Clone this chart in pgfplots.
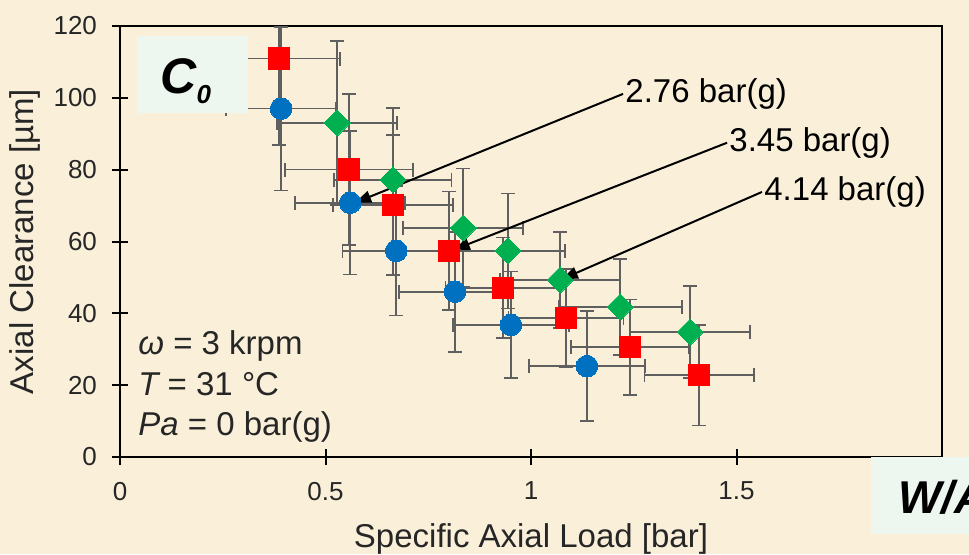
\documentclass[border=0pt]{standalone}
\usepackage{fontspec}
\setmainfont{Liberation Sans}
\usepackage{pgfplots}
\pgfplotsset{compat=1.18}
\usepackage{pgfplotstable}
\usetikzlibrary{arrows.meta}
\definecolor{bg}{RGB}{250,240,218}
\definecolor{mint}{RGB}{237,247,240}
\definecolor{cblue}{RGB}{0,112,192}
\definecolor{cred}{RGB}{255,0,0}
\definecolor{cgreen}{RGB}{0,176,80}
\definecolor{errgray}{RGB}{95,95,95}
\definecolor{txt}{RGB}{38,38,38}

% 2.76 bar(g)
\pgfplotstableread{
x y ex ey
0.392 97.0 0.134 22.8
0.560 70.8 0.134 20.0
0.672 57.4 0.131 18.0
0.815 46.0 0.136 16.7
0.951 36.8 0.141 14.8
1.136 25.3 0.141 15.3
}\blueD
% 3.45 bar(g)
\pgfplotstableread{
x y ex ey
0.387 110.9 0.148 24.0
0.557 80.0 0.156 21.0
0.664 70.2 0.146 19.5
0.800 57.4 0.140 16.5
0.932 47.1 0.140 14.0
1.085 38.7 0.140 13.7
1.241 30.6 0.144 13.3
1.409 22.8 0.133 14.0
}\redD
% 4.14 bar(g)
\pgfplotstableread{
x y ex ey
0.528 93.0 0.146 22.8
0.664 77.2 0.143 20.0
0.835 63.8 0.146 16.5
0.944 57.4 0.139 16.0
1.071 49.3 0.146 13.4
1.217 41.8 0.150 13.4
1.387 34.8 0.146 12.8
}\greenD

\begin{document}
\begin{tikzpicture}[x=1pt,y=1pt]
\path[use as bounding box, fill=bg] (0,0) rectangle (484.5,277);
\begin{axis}[
  at={(60pt,48.5pt)}, anchor=south west,
  scale only axis, width=411pt, height=215.5pt,
  xmin=0, xmax=2, ymin=0, ymax=120,
  xtick={0,0.5,1,1.5}, ytick={0,20,...,120},
  xtick pos=bottom, ytick pos=left,
  tick align=center, major tick length=8pt,
  tick style={line width=1pt, black},
  axis line style={line width=1pt, black},
  every tick label/.append style={font=\fontsize{13}{15}\selectfont, text=txt},
  xticklabel style={yshift=-5pt},
  yticklabel style={xshift=-4pt},
  /pgf/number format/assume math mode=true,
  xlabel={Specific Axial Load [bar]},
  ylabel={Axial Clearance [µm]},
  label style={font=\fontsize{16.5}{19}\selectfont, text=txt},
  xlabel style={at={(axis description cs:0.5,-0.19)}, anchor=center},
  ylabel style={at={(axis description cs:-0.1156,0.5)}, anchor=center},
  error bars/error bar style={line width=0.8pt, errgray},
  error bars/error mark options={rotate=90, mark size=3.5pt, line width=0.8pt, errgray},
]
% error bars
\addplot[only marks, mark=none, forget plot,
  error bars/.cd, x dir=both, x explicit, y dir=both, y explicit]
  table[x=x, y=y, x error=ex, y error=ey]{\blueD};
\addplot[only marks, mark=none, forget plot,
  error bars/.cd, x dir=both, x explicit, y dir=both, y explicit]
  table[x=x, y=y, x error=ex, y error=ey]{\redD};
\addplot[only marks, mark=none, forget plot,
  error bars/.cd, x dir=both, x explicit, y dir=both, y explicit]
  table[x=x, y=y, x error=ex, y error=ey]{\greenD};
% markers
\addplot[only marks, mark=*, mark size=5.4pt, mark options={fill=cblue, draw=cblue, line width=0pt}]
  table[x=x, y=y]{\blueD};
\addplot[only marks, mark=square*, mark size=5.4pt, mark options={fill=cred, draw=cred, line width=0pt}]
  table[x=x, y=y]{\redD};
\addplot[only marks, mark=square*, mark size=4.6pt, mark options={rotate=45, fill=cgreen, draw=cgreen, line width=0pt}]
  table[x=x, y=y]{\greenD};
% annotations
\draw[line width=1pt, -{Triangle[length=8pt,width=6pt]}] (axis cs:1.224,101.1) -- (axis cs:0.572,70.8);
\draw[line width=1pt, -{Triangle[length=8pt,width=6pt]}] (axis cs:1.477,87.5) -- (axis cs:0.812,57.7);
\draw[line width=1pt, -{Triangle[length=8pt,width=6pt]}] (axis cs:1.562,73.8) -- (axis cs:1.075,49.5);
\node[anchor=west, inner sep=1pt, font=\fontsize{16.5}{19}\selectfont] at (axis cs:1.224,101.1) {2.76 bar(g)};
\node[anchor=west, inner sep=1pt, font=\fontsize{16.5}{19}\selectfont] at (axis cs:1.477,87.5) {3.45 bar(g)};
\node[anchor=west, inner sep=1pt, font=\fontsize{16.5}{19}\selectfont] at (axis cs:1.562,73.8) {4.14 bar(g)};
\end{axis}
% condition text
\begin{scope}[every node/.style={anchor=base west, inner sep=0pt, font=\fontsize{16.5}{19}\selectfont, text=txt}]
\node at (69,100) {{\itshape ω} = 3 krpm};
\node at (69,79.5) {{\itshape T} = 31 °C};
\node at (69,59.5) {{\itshape Pa} = 0 bar(g)};
\end{scope}
% C0 box
\fill[mint] (68.5,220.5) rectangle (124,259);
\node[anchor=base west, inner sep=0pt] at (80,230.5) {\fontsize{25}{29}\selectfont\bfseries\itshape C\raisebox{-5pt}{\fontsize{13}{15}\selectfont 0}};
% W/A box
\fill[mint] (435.5,10) rectangle (495,48.5);
\node[anchor=base west, inner sep=0pt] at (449,20.5) {\fontsize{23}{27}\selectfont\bfseries\itshape W/A};
\end{tikzpicture}
\end{document}
